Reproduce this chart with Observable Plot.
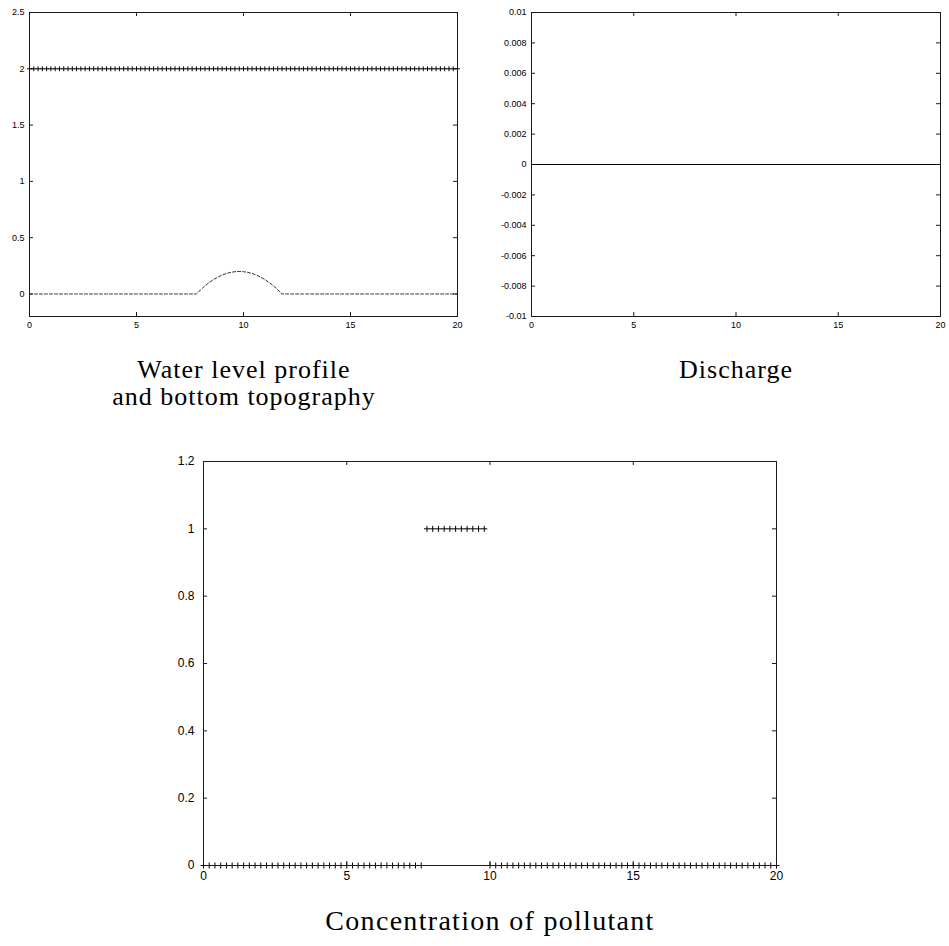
<!DOCTYPE html>
<html>
<head>
<meta charset="utf-8">
<script src="https://cdn.jsdelivr.net/npm/d3@7"></script>
<script src="https://cdn.jsdelivr.net/npm/@observablehq/plot@0.6"></script>
<style>
  body { margin: 0; background: #fff; }
  #page { position: relative; width: 949px; height: 946px; overflow: hidden; }
  .panel { position: absolute; }
  .title {
    position: absolute;
    font-family: "Liberation Serif", "DejaVu Serif", serif;
    font-size: 26px;
    line-height: 27px;
    letter-spacing: 1px;
    text-align: center;
    color: #000;
  }
  .title.big { font-size: 28px; letter-spacing: 1.3px; }
</style>
</head>
<body>
<div id="page"></div>
<script>
// Grid stations along the channel (m)
const stations = [
  0, 0.2, 0.4, 0.6, 0.8, 1, 1.2, 1.4, 1.6, 1.8,
  2, 2.2, 2.4, 2.6, 2.8, 3, 3.2, 3.4, 3.6, 3.8,
  4, 4.2, 4.4, 4.6, 4.8, 5, 5.2, 5.4, 5.6, 5.8,
  6, 6.2, 6.4, 6.6, 6.8, 7, 7.2, 7.4, 7.6, 7.8,
  8, 8.2, 8.4, 8.6, 8.8, 9, 9.2, 9.4, 9.6, 9.8,
  10, 10.2, 10.4, 10.6, 10.8, 11, 11.2, 11.4, 11.6, 11.8,
  12, 12.2, 12.4, 12.6, 12.8, 13, 13.2, 13.4, 13.6, 13.8,
  14, 14.2, 14.4, 14.6, 14.8, 15, 15.2, 15.4, 15.6, 15.8,
  16, 16.2, 16.4, 16.6, 16.8, 17, 17.2, 17.4, 17.6, 17.8,
  18, 18.2, 18.4, 18.6, 18.8, 19, 19.2, 19.4, 19.6, 19.8,
  20
];

// Free-surface elevation at each station
const waterLevel = [
  2, 2, 2, 2, 2, 2, 2, 2, 2, 2,
  2, 2, 2, 2, 2, 2, 2, 2, 2, 2,
  2, 2, 2, 2, 2, 2, 2, 2, 2, 2,
  2, 2, 2, 2, 2, 2, 2, 2, 2, 2,
  2, 2, 2, 2, 2, 2, 2, 2, 2, 2,
  2, 2, 2, 2, 2, 2, 2, 2, 2, 2,
  2, 2, 2, 2, 2, 2, 2, 2, 2, 2,
  2, 2, 2, 2, 2, 2, 2, 2, 2, 2,
  2, 2, 2, 2, 2, 2, 2, 2, 2, 2,
  2, 2, 2, 2, 2, 2, 2, 2, 2, 2,
  2
];

// Bed elevation: flat bottom with a bump
const bottom = [
  0, 0, 0, 0, 0, 0, 0, 0, 0, 0,
  0, 0, 0, 0, 0, 0, 0, 0, 0, 0,
  0, 0, 0, 0, 0, 0, 0, 0, 0, 0,
  0, 0, 0, 0, 0, 0, 0, 0, 0, 0,
  0.038, 0.072, 0.102, 0.128, 0.15, 0.168, 0.182, 0.192, 0.198, 0.2,
  0.198, 0.192, 0.182, 0.168, 0.15, 0.128, 0.102, 0.072, 0.038, 0,
  0, 0, 0, 0, 0, 0, 0, 0, 0, 0,
  0, 0, 0, 0, 0, 0, 0, 0, 0, 0,
  0, 0, 0, 0, 0, 0, 0, 0, 0, 0,
  0, 0, 0, 0, 0, 0, 0, 0, 0, 0,
  0
];

// Discharge at each station (fluid at rest)
const discharge = [
  0, 0, 0, 0, 0, 0, 0, 0, 0, 0,
  0, 0, 0, 0, 0, 0, 0, 0, 0, 0,
  0, 0, 0, 0, 0, 0, 0, 0, 0, 0,
  0, 0, 0, 0, 0, 0, 0, 0, 0, 0,
  0, 0, 0, 0, 0, 0, 0, 0, 0, 0,
  0, 0, 0, 0, 0, 0, 0, 0, 0, 0,
  0, 0, 0, 0, 0, 0, 0, 0, 0, 0,
  0, 0, 0, 0, 0, 0, 0, 0, 0, 0,
  0, 0, 0, 0, 0, 0, 0, 0, 0, 0,
  0, 0, 0, 0, 0, 0, 0, 0, 0, 0,
  0
];

// Pollutant concentration at each station
const concentration = [
  0, 0, 0, 0, 0, 0, 0, 0, 0, 0,
  0, 0, 0, 0, 0, 0, 0, 0, 0, 0,
  0, 0, 0, 0, 0, 0, 0, 0, 0, 0,
  0, 0, 0, 0, 0, 0, 0, 0, 0, 1,
  1, 1, 1, 1, 1, 1, 1, 1, 1, 1,
  0, 0, 0, 0, 0, 0, 0, 0, 0, 0,
  0, 0, 0, 0, 0, 0, 0, 0, 0, 0,
  0, 0, 0, 0, 0, 0, 0, 0, 0, 0,
  0, 0, 0, 0, 0, 0, 0, 0, 0, 0,
  0, 0, 0, 0, 0, 0, 0, 0, 0, 0,
  0
];

// Axis ticks and their labels
const xTicks = [0, 5, 10, 15, 20];
const xTickLabels = ["0", "5", "10", "15", "20"];
const levelTicks = [0, 0.5, 1, 1.5, 2, 2.5];
const levelTickLabels = ["0", "0.5", "1", "1.5", "2", "2.5"];
const dischargeTicks = [-0.01, -0.008, -0.006, -0.004, -0.002, 0, 0.002, 0.004, 0.006, 0.008, 0.01];
const dischargeTickLabels = ["-0.01", "-0.008", "-0.006", "-0.004", "-0.002", "0", "0.002", "0.004", "0.006", "0.008", "0.01"];
const concTicks = [0, 0.2, 0.4, 0.6, 0.8, 1, 1.2];
const concTickLabels = ["0", "0.2", "0.4", "0.6", "0.8", "1", "1.2"];

const level = stations.map((x, i) => ({x, y: waterLevel[i]}));
const bed = stations.map((x, i) => ({x, y: bottom[i]}));
const flow = stations.map((x, i) => ({x, y: discharge[i]}));
const conc = stations.map((x, i) => ({x, y: concentration[i]}));

const INK = "#1a1a1a";

// One framed panel with inward ticks on all four sides
function panel({left, top, width, height, margin, xDomain, yDomain, yTicks, yLabels, fontSize, xLabelDy, yLabelDx, marks}) {
  const [mt, mr, mb, ml] = margin;
  const innerW = width - ml - mr;
  const innerH = height - mt - mb;
  const xLab = new Map(xTicks.map((t, i) => [t, xTickLabels[i]]));
  const yLab = new Map(yTicks.map((t, i) => [t, yLabels[i]]));
  const tick = 4;
  const chart = Plot.plot({
    width, height,
    marginTop: mt, marginRight: mr, marginBottom: mb, marginLeft: ml,
    x: {domain: xDomain, axis: null},
    y: {domain: yDomain, axis: null},
    style: {background: "transparent", fontFamily: "'Liberation Sans', Arial, sans-serif"},
    marks: [
      ...marks,
      Plot.frame({stroke: INK, strokeWidth: 1}),
      // inward tick marks
      Plot.ruleX(xTicks, {x: d => d, insetTop: innerH - tick, stroke: INK}),
      Plot.ruleX(xTicks, {x: d => d, insetBottom: innerH - tick, stroke: INK}),
      Plot.ruleY(yTicks, {y: d => d, insetRight: innerW - tick, stroke: INK}),
      Plot.ruleY(yTicks, {y: d => d, insetLeft: innerW - tick, stroke: INK}),
      // tick labels
      Plot.text(xTicks, {x: d => d, text: d => xLab.get(d), frameAnchor: "bottom", lineAnchor: "top", dy: xLabelDy, fontSize, fill: "#000"}),
      Plot.text(yTicks, {y: d => d, text: d => yLab.get(d), frameAnchor: "left", textAnchor: "end", dx: yLabelDx, fontSize, fill: "#000"})
    ]
  });
  chart.classList.add("panel");
  chart.style.left = left + "px";
  chart.style.top = top + "px";
  return chart;
}

const page = document.getElementById("page");

page.appendChild(panel({
  left: 0, top: 0, width: 470, height: 341, margin: [12, 13, 25, 29],
  xDomain: [0, 20], yDomain: [-0.2, 2.5],
  yTicks: levelTicks, yLabels: levelTickLabels,
  fontSize: 9, xLabelDy: 5, yLabelDx: -5,
  marks: [
    Plot.line(bed, {x: "x", y: "y", stroke: "#000", strokeWidth: 0.8, strokeDasharray: "3,2"}),
    Plot.dot(level, {x: "x", y: "y", symbol: "plus", r: 1.7, stroke: "#000", strokeWidth: 1})
  ]
}));

page.appendChild(panel({
  left: 490, top: 0, width: 459, height: 341, margin: [12, 9, 25, 41],
  xDomain: [0, 20], yDomain: [-0.01, 0.01],
  yTicks: dischargeTicks, yLabels: dischargeTickLabels,
  fontSize: 9, xLabelDy: 5, yLabelDx: -5,
  marks: [
    Plot.line(flow, {x: "x", y: "y", stroke: "#000", strokeWidth: 1.2})
  ]
}));

page.appendChild(panel({
  left: 150, top: 440, width: 646, height: 460, margin: [21, 20, 35, 53],
  xDomain: [0, 20], yDomain: [0, 1.2],
  yTicks: concTicks, yLabels: concTickLabels,
  fontSize: 12, xLabelDy: 6, yLabelDx: -9,
  marks: [
    Plot.dot(conc, {x: "x", y: "y", symbol: "plus", r: 2.1, stroke: "#000", strokeWidth: 1})
  ]
}));

function title(lines, left, top, width, cls) {
  const div = document.createElement("div");
  div.className = "title" + (cls ? " " + cls : "");
  div.style.left = left + "px";
  div.style.top = top + "px";
  div.style.width = width + "px";
  div.innerHTML = lines.join("<br>");
  page.appendChild(div);
}

title(["Water level profile", "and bottom topography"], 0, 356, 488);
title(["Discharge"], 492, 356, 488);
title(["Concentration of pollutant"], 190, 907, 600, "big");
</script>
</body>
</html>
